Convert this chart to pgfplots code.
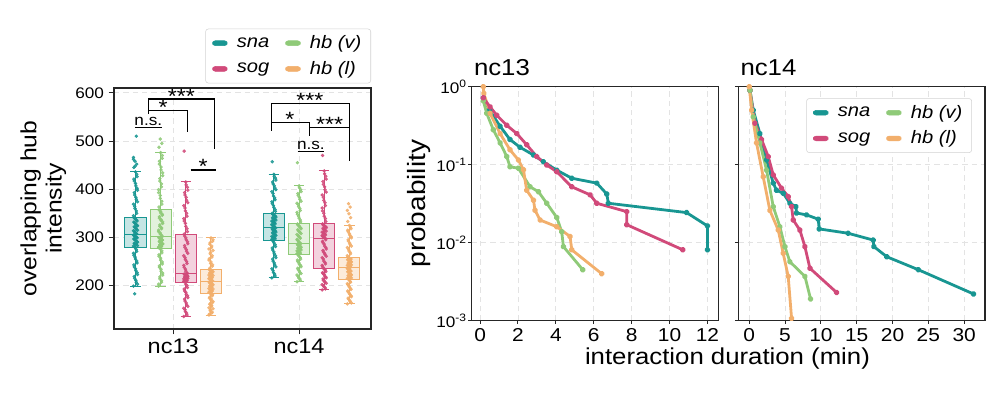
\documentclass[border=0pt]{standalone}
\usepackage{pgfplots}
\pgfplotsset{compat=1.18}
\usepackage{fontspec}
\setmainfont{Liberation Sans}[FakeStretch=1.12]
\definecolor{snac}{RGB}{24,150,146}
\definecolor{sogc}{RGB}{209,74,122}
\definecolor{hbvc}{RGB}{143,202,120}
\definecolor{hblc}{RGB}{242,175,108}
\newcommand\fsz[1]{\fontsize{#1}{1.15\dimexpr#1\relax}\selectfont}
\pgfplotsset{
  mygrid/.style={grid=major, major grid style={gray!22, dash pattern=on 4pt off 3pt, line width=0.6pt}},
  patchleg/.style={legend image code/.code={\fill[#1] (0pt,-1.8pt) rectangle (11pt,1.8pt);}},
  myleg/.style={legend columns=2, legend cell align=left,
    legend style={draw=gray!35, rounded corners=2pt, fill=white, font=\itshape\fsz{13.5pt},
      inner xsep=5pt, inner ysep=3pt, row sep=4pt,
      /tikz/every odd column/.append style={column sep=5pt},
      /tikz/every even column/.append style={column sep=10pt}}},
  jit/.style={forget plot, only marks, mark=*, mark size=1.1pt, color=#1, opacity=0.85, mark options={draw=none}},
  bxf/.style={forget plot, draw=#1, fill=#1!25, line width=0.75pt, line join=miter},
  bxl/.style={forget plot, color=#1, line width=0.75pt},
  ccdf/.style={color=#1, line width=2.1pt, mark=*, mark size=1.2pt, line join=round, forget plot},
}
\begin{document}
\begin{tikzpicture}
\useasboundingbox (0,0) rectangle (750pt,298.5pt);
% ---------------- left panel ----------------
\begin{axis}[
  at={(85.5pt,51.75pt)}, anchor=south west, scale only axis,
  width=192.75pt, height=180.75pt,
  xmin=0.146, xmax=10.36, ymin=110, ymax=610,
  xtick={2.5,7.5}, xticklabels={nc13,nc14},
  ytick={200,300,400,500,600},
  unbounded coords=jump,
  mygrid, xtick pos=bottom, ytick pos=left, tick align=outside,
  major tick length=4pt,
  tick style={black!85, line width=0.7pt},
  axis line style={black!85, line width=0.9pt},
  /pgf/number format/assume math mode=true,
  xticklabel style={font=\fsz{15.75pt}},
  yticklabel style={font=\fsz{11.5pt}},
  ylabel={overlapping hub\\intensity},
  ylabel style={align=center, font=\fontsize{16.5pt}{19pt}\selectfont},
  myleg,
  legend style={at={(1,1)}, anchor=south east, yshift=3.5pt},
]
% boxes
\addplot[bxf=snac] coordinates {(0.58,279)(1.42,279)(1.42,341)(0.58,341)(0.58,279)(1.42,279)};
\addplot[bxl=snac] coordinates {(1,279)(1,199) (nan,nan) (0.79,199)(1.21,199) (nan,nan) (1,341)(1,436) (nan,nan) (0.79,436)(1.21,436) (nan,nan) (0.58,307)(1.42,307)};
\addplot[bxf=hbvc] coordinates {(1.58,276)(2.42,276)(2.42,357)(1.58,357)(1.58,276)(2.42,276)};
\addplot[bxl=hbvc] coordinates {(2,276)(2,199) (nan,nan) (1.79,199)(2.21,199) (nan,nan) (2,357)(2,476) (nan,nan) (1.79,476)(2.21,476) (nan,nan) (1.58,301)(2.42,301)};
\addplot[bxf=sogc] coordinates {(2.58,207)(3.42,207)(3.42,307)(2.58,307)(2.58,207)(3.42,207)};
\addplot[bxl=sogc] coordinates {(3,207)(3,136) (nan,nan) (2.79,136)(3.21,136) (nan,nan) (3,307)(3,415) (nan,nan) (2.79,415)(3.21,415) (nan,nan) (2.58,226)(3.42,226)};
\addplot[bxf=hblc] coordinates {(3.58,183)(4.42,183)(4.42,233)(3.58,233)(3.58,183)(4.42,183)};
\addplot[bxl=hblc] coordinates {(4,183)(4,139) (nan,nan) (3.79,139)(4.21,139) (nan,nan) (4,233)(4,299) (nan,nan) (3.79,299)(4.21,299) (nan,nan) (3.58,209)(4.42,209)};
\addplot[bxf=snac] coordinates {(6.08,293)(6.92,293)(6.92,350)(6.08,350)(6.08,293)(6.92,293)};
\addplot[bxl=snac] coordinates {(6.5,293)(6.5,216) (nan,nan) (6.29,216)(6.71,216) (nan,nan) (6.5,350)(6.5,431) (nan,nan) (6.29,431)(6.71,431) (nan,nan) (6.08,321)(6.92,321)};
\addplot[bxf=hbvc] coordinates {(7.08,264)(7.92,264)(7.92,328)(7.08,328)(7.08,264)(7.92,264)};
\addplot[bxl=hbvc] coordinates {(7.5,264)(7.5,208) (nan,nan) (7.29,208)(7.71,208) (nan,nan) (7.5,328)(7.5,407) (nan,nan) (7.29,407)(7.71,407) (nan,nan) (7.08,288)(7.92,288)};
\addplot[bxf=sogc] coordinates {(8.08,236)(8.92,236)(8.92,328)(8.08,328)(8.08,236)(8.92,236)};
\addplot[bxl=sogc] coordinates {(8.5,236)(8.5,191) (nan,nan) (8.29,191)(8.71,191) (nan,nan) (8.5,328)(8.5,438) (nan,nan) (8.29,438)(8.71,438) (nan,nan) (8.08,298)(8.92,298)};
\addplot[bxf=hblc] coordinates {(9.08,212)(9.92,212)(9.92,259)(9.08,259)(9.08,212)(9.92,212)};
\addplot[bxl=hblc] coordinates {(9.5,212)(9.5,162) (nan,nan) (9.29,162)(9.71,162) (nan,nan) (9.5,259)(9.5,325) (nan,nan) (9.29,325)(9.71,325) (nan,nan) (9.08,238)(9.92,238)};
% points (jittered strips)
\addplot[jit=snac] table[row sep=\\, header=false, y index=0, x expr={1+0.016*(mod(\coordindex*7,11)-5)}]
{199\\207\\215\\223\\231\\239\\247\\255\\263\\271\\279\\282\\285\\287\\290\\293\\296\\299\\301\\304\\307\\310\\314\\317\\321\\324\\327\\331\\334\\338\\341\\350\\360\\369\\379\\388\\398\\407\\417\\426\\436\\445\\452\\458\\466\\510\\183\\
203\\211\\219\\227\\235\\243\\251\\259\\267\\275\\280\\283\\286\\288\\291\\294\\297\\300\\302\\305\\308\\312\\315\\319\\322\\325\\329\\332\\336\\339\\345\\355\\364\\374\\383\\393\\402\\412\\421\\431\\448\\462\\};
\addplot[jit=hbvc] table[row sep=\\, header=false, y index=0, x expr={2+0.016*(mod(\coordindex*7,11)-5)}]
{199\\207\\214\\222\\230\\238\\245\\253\\261\\268\\276\\279\\281\\284\\286\\289\\291\\294\\296\\299\\301\\307\\312\\318\\323\\329\\335\\340\\346\\351\\357\\369\\381\\393\\405\\417\\428\\440\\452\\464\\476\\487\\495\\504\\
203\\210\\218\\226\\234\\241\\249\\257\\264\\272\\277\\280\\282\\285\\287\\290\\292\\295\\297\\300\\304\\309\\315\\320\\326\\332\\337\\343\\348\\354\\363\\375\\387\\399\\411\\422\\434\\446\\458\\470\\};
\addplot[jit=sogc] table[row sep=\\, header=false, y index=0, x expr={3+0.016*(mod(\coordindex*7,11)-5)}]
{136\\143\\150\\157\\164\\172\\179\\186\\193\\200\\207\\209\\211\\213\\215\\217\\218\\220\\222\\224\\226\\234\\242\\250\\258\\267\\275\\283\\291\\299\\307\\318\\329\\339\\350\\361\\372\\383\\393\\404\\415\\479\\
139\\146\\153\\160\\168\\175\\182\\189\\196\\203\\208\\210\\212\\214\\216\\217\\219\\221\\223\\225\\230\\238\\246\\254\\262\\271\\279\\287\\295\\303\\312\\323\\334\\344\\355\\366\\377\\388\\398\\409\\};
\addplot[jit=hblc] table[row sep=\\, header=false, y index=0, x expr={4+0.016*(mod(\coordindex*7,11)-5)}]
{139\\143\\148\\152\\157\\161\\165\\170\\174\\179\\183\\186\\188\\191\\193\\196\\199\\201\\204\\206\\209\\211\\214\\216\\219\\221\\223\\226\\228\\231\\233\\240\\246\\253\\259\\266\\273\\279\\286\\292\\299\\
141\\145\\150\\154\\159\\163\\167\\172\\176\\181\\184\\187\\189\\192\\194\\197\\200\\202\\205\\207\\210\\212\\215\\217\\220\\222\\224\\227\\229\\232\\236\\243\\249\\256\\262\\269\\276\\282\\289\\295\\};
\addplot[jit=snac] table[row sep=\\, header=false, y index=0, x expr={6.5+0.016*(mod(\coordindex*7,11)-5)}]
{216\\224\\231\\239\\247\\255\\262\\270\\278\\285\\293\\296\\299\\301\\304\\307\\310\\313\\315\\318\\321\\324\\327\\330\\333\\336\\338\\341\\344\\347\\350\\358\\366\\374\\382\\391\\399\\407\\415\\423\\431\\457\\
220\\227\\235\\243\\251\\258\\266\\274\\281\\289\\294\\297\\300\\302\\305\\308\\311\\314\\316\\319\\322\\325\\328\\331\\334\\337\\339\\342\\345\\348\\354\\362\\370\\378\\386\\395\\403\\411\\419\\427\\};
\addplot[jit=hbvc] table[row sep=\\, header=false, y index=0, x expr={7.5+0.016*(mod(\coordindex*7,11)-5)}]
{208\\214\\219\\225\\230\\236\\242\\247\\253\\258\\264\\266\\269\\271\\274\\276\\278\\281\\283\\286\\288\\292\\296\\300\\304\\308\\312\\316\\320\\324\\328\\336\\344\\352\\360\\368\\375\\383\\391\\399\\407\\455\\
211\\216\\222\\227\\233\\239\\244\\250\\255\\261\\265\\267\\270\\272\\275\\277\\279\\282\\284\\287\\290\\294\\298\\302\\306\\310\\314\\318\\322\\326\\332\\340\\348\\356\\364\\371\\379\\387\\395\\403\\};
\addplot[jit=sogc] table[row sep=\\, header=false, y index=0, x expr={8.5+0.016*(mod(\coordindex*7,11)-5)}]
{191\\196\\200\\205\\209\\214\\218\\223\\227\\232\\236\\242\\248\\255\\261\\267\\273\\279\\286\\292\\298\\301\\304\\307\\310\\313\\316\\319\\322\\325\\328\\339\\350\\361\\372\\383\\394\\405\\416\\427\\438\\470\\
193\\198\\202\\207\\211\\216\\220\\225\\229\\234\\239\\245\\251\\258\\264\\270\\276\\282\\289\\295\\299\\302\\305\\308\\311\\314\\317\\320\\323\\326\\333\\344\\355\\366\\377\\388\\399\\410\\421\\432\\};
\addplot[jit=hblc] table[row sep=\\, header=false, y index=0, x expr={9.5+0.016*(mod(\coordindex*7,11)-5)}]
{162\\167\\172\\177\\182\\187\\192\\197\\202\\207\\212\\215\\217\\220\\222\\225\\228\\230\\233\\235\\238\\240\\242\\244\\246\\249\\251\\253\\255\\257\\259\\266\\272\\279\\285\\292\\299\\305\\312\\318\\325\\333\\341\\349\\356\\363\\370\\
164\\169\\174\\179\\184\\189\\194\\199\\204\\209\\213\\216\\218\\221\\223\\226\\229\\231\\234\\236\\239\\241\\243\\245\\247\\250\\252\\254\\256\\258\\262\\269\\275\\282\\288\\295\\302\\308\\315\\321\\};
% significance brackets
\draw[black, line width=0.9pt] (axis cs:0.98,528) -- (axis cs:2.04,528);
\draw[black, line width=0.9pt] (axis cs:1.51,556) -- (axis cs:1.51,587) -- (axis cs:4.13,587) -- (axis cs:4.13,483);
\draw[black, line width=0.9pt] (axis cs:1.51,563) -- (axis cs:3.07,563) -- (axis cs:3.07,518);
\draw[black, line width=0.9pt] (axis cs:3.19,440) -- (axis cs:4.19,440);
\draw[black, line width=0.9pt] (axis cs:7.44,479) -- (axis cs:8.49,479);
\draw[black, line width=0.9pt] (axis cs:6.41,521) -- (axis cs:6.41,578) -- (axis cs:9.52,578) -- (axis cs:9.52,459);
\draw[black, line width=0.9pt] (axis cs:6.41,539) -- (axis cs:7.93,539) -- (axis cs:7.93,511);
\draw[black, line width=0.9pt] (axis cs:7.93,528) -- (axis cs:9.52,528);
\node[anchor=base, inner sep=0pt, yshift=1.2pt, font=\fsz{11.5pt}] at (axis cs:1.51,528) {n.s.};
\node[anchor=base, inner sep=0pt, yshift=-3pt, font=\fsz{15.5pt}] at (axis cs:2.1,563) {*};
\node[anchor=base, inner sep=0pt, yshift=-3pt, font=\fsz{15.5pt}] at (axis cs:2.82,587) {***};
\node[anchor=base, inner sep=0pt, yshift=-3pt, font=\fsz{15.5pt}] at (axis cs:3.69,440) {*};
\node[anchor=base, inner sep=0pt, yshift=1.2pt, font=\fsz{11.5pt}] at (axis cs:7.97,479) {n.s.};
\node[anchor=base, inner sep=0pt, yshift=-3pt, font=\fsz{15.5pt}] at (axis cs:7.93,578) {***};
\node[anchor=base, inner sep=0pt, yshift=-3pt, font=\fsz{15.5pt}] at (axis cs:7.14,539) {*};
\node[anchor=base, inner sep=0pt, yshift=-3pt, font=\fsz{15.5pt}] at (axis cs:8.72,528) {***};
% legend
\addlegendimage{patchleg=snac}\addlegendentry{sna}
\addlegendimage{patchleg=hbvc}\addlegendentry{hb (v)}
\addlegendimage{patchleg=sogc}\addlegendentry{sog}
\addlegendimage{patchleg=hblc}\addlegendentry{hb (l)}
\end{axis}
% ---------------- nc13 ----------------
\begin{axis}[
  at={(353.8pt,58pt)}, anchor=south west, scale only axis,
  width=185pt, height=175.5pt,
  xmin=-0.44, xmax=12.58, ymode=log, ymin=1e-3, ymax=1,
  xtick={0,2,4,6,8,10,12},
  ytick={0.001,0.01,0.1,1},
  yticklabels={10\textsuperscript{-3},10\textsuperscript{-2},10\textsuperscript{-1},10\textsuperscript{0}},
  yminorticks=false,
  mygrid, xtick pos=bottom, ytick pos=left, tick align=outside,
  major tick length=2.5pt,
  tick style={black!85, line width=0.7pt},
  axis line style={black!85, line width=1.1pt},
  /pgf/number format/assume math mode=true,
  xticklabel style={font=\fsz{14pt}},
  yticklabel style={font=\fsz{11.5pt}, inner sep=1pt},
  ylabel={probability},
  ylabel style={font=\fsz{18.75pt}},
  title={nc13}, title style={at={(0,1)}, anchor=base west, font=\fsz{17.25pt}, inner sep=0pt, yshift=2.2pt, xshift=1.5pt},
]
\addplot[ccdf=snac] coordinates {(0.17,0.72) (0.5,0.5) (1.06,0.31) (1.58,0.21) (2.11,0.167) (2.82,0.133) (3.34,0.109) (4.05,0.085) (4.84,0.067) (6.16,0.058) (6.69,0.042) (6.77,0.032) (10.9,0.0243) (12.0,0.0164) (12.0,0.0081)};
\addplot[ccdf=hbvc] coordinates {(0.17,0.66) (0.35,0.455) (0.70,0.28) (1.06,0.19) (1.41,0.127) (1.58,0.094) (2.02,0.09) (2.64,0.052) (3.08,0.045) (3.52,0.032) (4.05,0.021) (4.31,0.0138) (4.40,0.0089) (5.42,0.0045)};
\addplot[ccdf=hblc] coordinates {(0.17,1.0) (0.2,0.82) (0.53,0.455) (1.06,0.25) (1.58,0.155) (2.02,0.115) (2.29,0.086) (2.46,0.047) (2.82,0.035) (2.90,0.026) (3.17,0.0195) (4.05,0.016) (4.75,0.012) (4.84,0.0081) (6.42,0.0040)};
\addplot[ccdf=sogc] coordinates {(0.17,0.72) (0.53,0.55) (0.88,0.43) (1.41,0.32) (1.94,0.25) (2.46,0.18) (2.99,0.127) (3.52,0.099) (4.05,0.081) (4.84,0.052) (5.81,0.041) (6.16,0.032) (7.74,0.025) (7.74,0.017) (10.7,0.0081)};
\end{axis}
% ---------------- nc14 ----------------
\begin{axis}[
  at={(553.7pt,58pt)}, anchor=south west, scale only axis,
  width=185pt, height=175.5pt,
  xmin=-1.53, xmax=32.9, ymode=log, ymin=1e-3, ymax=1,
  xtick={0,5,10,15,20,25,30},
  ytick={0.001,0.01,0.1,1}, yticklabels={},
  yminorticks=false,
  mygrid, xtick pos=bottom, ytick pos=left, tick align=outside,
  major tick length=2.5pt,
  tick style={black!85, line width=0.7pt},
  axis line style={black!85, line width=1.1pt},
  /pgf/number format/assume math mode=true,
  xticklabel style={font=\fsz{14pt}},
  title={nc14}, title style={at={(0,1)}, anchor=base west, font=\fsz{17.25pt}, inner sep=0pt, yshift=2.2pt, xshift=1.5pt},
  myleg,
  legend style={at={(1,1)}, anchor=north east, xshift=-9.75pt, yshift=-8.7pt},
]
\addplot[ccdf=snac] coordinates {(0.1,0.9) (0.56,0.50) (1.49,0.25) (2.42,0.115) (3.35,0.058) (3.81,0.047) (4.74,0.043) (5.67,0.032) (6.51,0.029) (6.6,0.024) (8.0,0.0227) (9.63,0.020) (9.77,0.015) (13.8,0.0132) (17.3,0.0108) (17.4,0.0089) (19.2,0.0066) (23.6,0.0045) (31.3,0.0022)};
\addplot[ccdf=sogc] coordinates {(0.1,0.9) (0.79,0.34) (1.72,0.21) (2.65,0.127) (3.35,0.074) (4.51,0.050) (5.44,0.039) (5.91,0.029) (6.14,0.0195) (7.07,0.0145) (7.77,0.0089) (8.47,0.0047) (12.19,0.0023)};
\addplot[ccdf=hbvc] coordinates {(0.1,0.9) (0.56,0.41) (1.49,0.19) (2.42,0.085) (3.35,0.029) (4.28,0.016) (4.98,0.0089) (5.67,0.0057) (7.77,0.0037) (8.56,0.0019)};
\addplot[ccdf=hblc] coordinates {(0.0,1.0) (0.33,0.50) (1.02,0.19) (1.95,0.070) (2.88,0.026) (4.05,0.0145) (4.74,0.0073) (5.44,0.0037) (5.91,0.00107)};
\addlegendimage{patchleg=snac}\addlegendentry{sna}
\addlegendimage{patchleg=hbvc}\addlegendentry{hb (v)}
\addlegendimage{patchleg=sogc}\addlegendentry{sog}
\addlegendimage{patchleg=hblc}\addlegendentry{hb (l)}
\end{axis}
\node[font=\fsz{17.25pt}, anchor=base] at (545.6pt,24.75pt) {interaction duration (min)};
\end{tikzpicture}
\end{document}
